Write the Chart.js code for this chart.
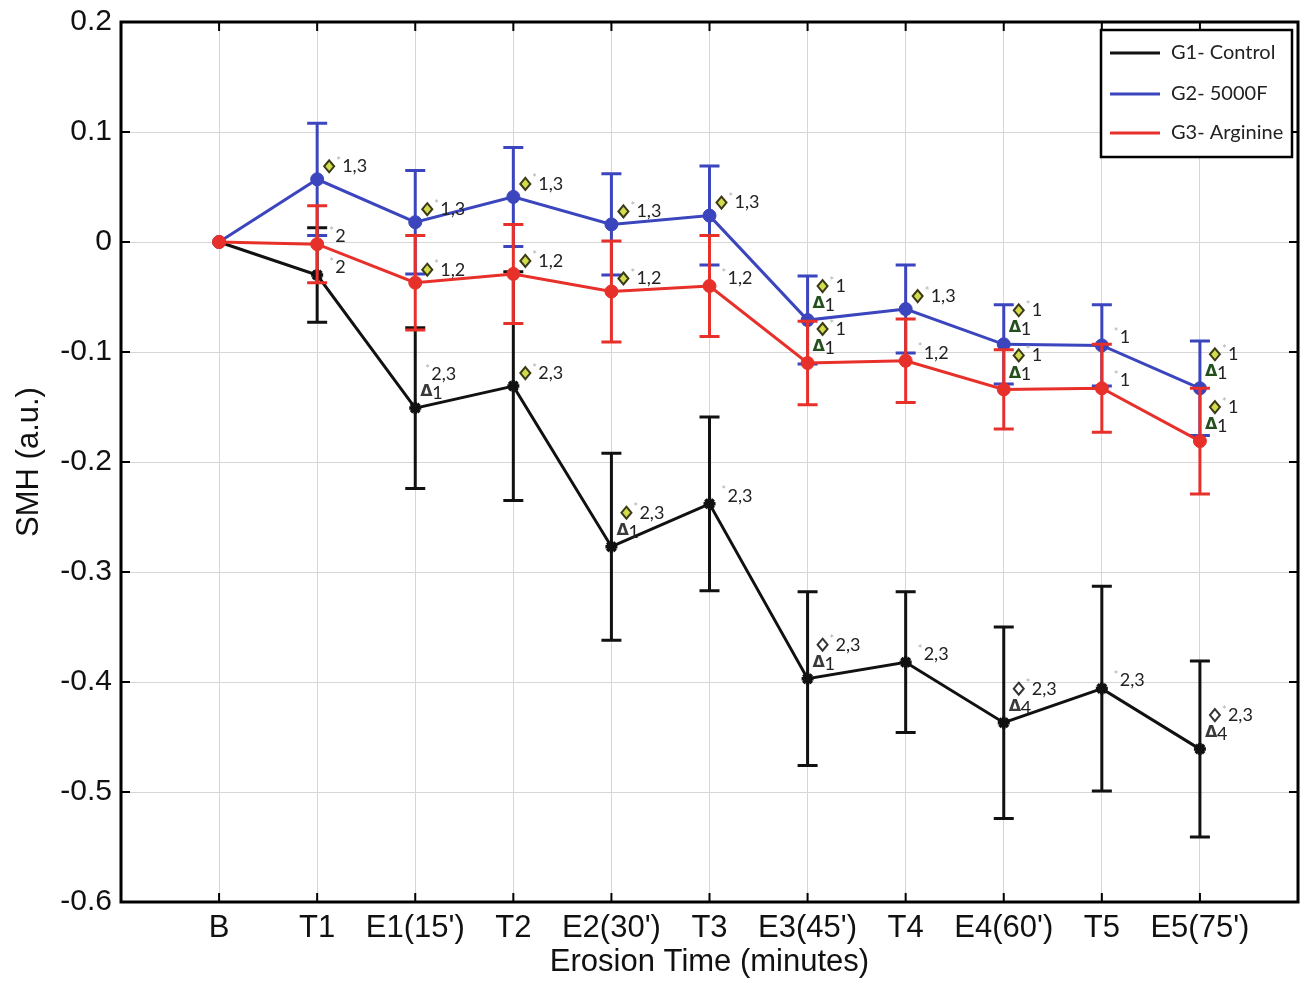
<!DOCTYPE html>
<html><head><meta charset="utf-8">
<script src="https://cdn.jsdelivr.net/npm/chart.js@4.4.1/dist/chart.umd.min.js"></script>
<style>html,body{margin:0;padding:0;background:#fff}#wrap{width:1309px;height:981px;position:relative}</style>
</head><body><div id="wrap"><canvas id="c"></canvas></div>
<script>
// ---- data ----
const categories = ["B","T1","E1(15')","T2","E2(30')","T3","E3(45')","T4","E4(60')","T5","E5(75')"];
const g1Values = [0,-0.030,-0.151,-0.131,-0.277,-0.238,-0.397,-0.382,-0.437,-0.406,-0.461];
const g1Errors = [0,0.043,0.073,0.104,0.085,0.079,0.079,0.064,0.087,0.093,0.080];
const g2Values = [0,0.057,0.018,0.041,0.016,0.024,-0.071,-0.061,-0.093,-0.094,-0.133];
const g2Errors = [0,0.051,0.047,0.045,0.046,0.045,0.040,0.040,0.036,0.037,0.043];
const g3Values = [0,-0.002,-0.037,-0.029,-0.045,-0.040,-0.110,-0.108,-0.134,-0.133,-0.181];
const g3Errors = [0,0.035,0.043,0.045,0.046,0.046,0.038,0.038,0.036,0.040,0.048];
const yTicks = [0.2,0.1,0,-0.1,-0.2,-0.3,-0.4,-0.5,-0.6];
const seriesNames = ["G1- Control","G2- 5000F","G3- Arginine"];
// significance marks: text after "*", diamond marker (f = filled, o = open), delta label
const g1Sig = ["","2","2,3","2,3","2,3","2,3","2,3","2,3","2,3","2,3","2,3"];
const g1Diamond = ["","","","f","f","","o","","o","","o"];
const g1Delta = ["","","1","","1","","1","","4","","4"];
const g2Sig = ["","1,3","1,3","1,3","1,3","1,3","1","1,3","1","1","1"];
const g2Diamond = ["","f","f","f","f","f","f","f","f","","f"];
const g2Delta = ["","","","","","","1","","1","","1"];
const g3Sig = ["","2","1,2","1,2","1,2","1,2","1","1,2","1","1","1"];
const g3Diamond = ["","","f","f","f","","f","","f","","f"];
const g3Delta = ["","","","","","","1","","1","","1"];

const BLACK = '#111111', BLUE = '#3b45bd', RED = '#e8302b';

function pts(vals){ return vals.map((v,i)=>({x:i,y:v})); }

const errorBars = {
  id:'errorBars',
  beforeDatasetDraw(chart, args){
    const ds = chart.data.datasets[args.index];
    const ys = chart.scales.y, ctx = chart.ctx;
    ctx.save();
    ctx.strokeStyle = ds.borderColor; ctx.lineWidth = 3;
    args.meta.data.forEach((p,i)=>{
      const e = ds.errors[i]; if(!e) return;
      const v = ds.data[i].y;
      const yt = ys.getPixelForValue(v+e), yb = ys.getPixelForValue(v-e);
      ctx.beginPath();
      ctx.moveTo(p.x,yt); ctx.lineTo(p.x,yb);
      ctx.moveTo(p.x-10,yt); ctx.lineTo(p.x+10,yt);
      ctx.moveTo(p.x-10,yb); ctx.lineTo(p.x+10,yb);
      ctx.stroke();
    });
    ctx.restore();
  }
};

function drawDiamond(ctx,cx,cy,type){
  ctx.save();
  ctx.beginPath();
  ctx.moveTo(cx,cy-6); ctx.lineTo(cx+5,cy); ctx.lineTo(cx,cy+6); ctx.lineTo(cx-5,cy); ctx.closePath();
  ctx.fillStyle = type==='f' ? '#d2dc4c' : '#ffffff';
  ctx.fill();
  ctx.lineWidth = 2; ctx.strokeStyle = type==='f' ? '#3a3a18' : '#333';
  ctx.stroke();
  ctx.restore();
}

const annotations = {
  id:'annotations',
  afterDatasetsDraw(chart){
    const ctx = chart.ctx;
    chart.data.datasets.forEach((ds,di)=>{
      const meta = chart.getDatasetMeta(di);
      meta.data.forEach((p,i)=>{
        const sig = ds.sig[i]; if(!sig) return;
        const hasDelta = ds.delta[i] !== '';
        let x, y;
        if (hasDelta){ x = p.x + 10; y = p.y - 34; }
        else if (ds.diamond[i]) { x = p.x + 7; y = p.y - 13; }
        else { x = p.x + 12; y = p.y - 8; }
        if (ds.diamond[i]) { drawDiamond(ctx, x+5, y, ds.diamond[i]); x += 12; }
        ctx.save();
        ctx.textBaseline = 'middle'; ctx.textAlign = 'left';
        ctx.font = '11px Lato'; ctx.fillStyle = '#b0b0b0';
        ctx.fillText('*', x, y-5); x += 6;
        ctx.font = '18px Lato'; ctx.fillStyle = '#222';
        ctx.fillText(sig, x, y);
        if (hasDelta){
          ctx.font = 'bold 16px "DejaVu Sans"';
          ctx.fillStyle = di===0 ? '#3a3a3a' : '#24501e';
          ctx.fillText('Δ', p.x+5, p.y-16);
          ctx.font = '18px Lato'; ctx.fillStyle = '#222';
          ctx.fillText(ds.delta[i], p.x+17, p.y-15);
        }
        ctx.restore();
      });
    });
  }
};

const frame = {
  id:'frame',
  afterDraw(chart){
    const ctx = chart.ctx, a = chart.chartArea;
    const xs = chart.scales.x, ys = chart.scales.y;
    ctx.save();
    ctx.strokeStyle = '#000'; ctx.lineWidth = 2;
    ctx.beginPath();
    categories.forEach((c,i)=>{
      const x = xs.getPixelForValue(i);
      ctx.moveTo(x,a.bottom); ctx.lineTo(x,a.bottom-9);
      ctx.moveTo(x,a.top); ctx.lineTo(x,a.top+9);
    });
    yTicks.forEach(v=>{
      const y = ys.getPixelForValue(v);
      ctx.moveTo(a.left,y); ctx.lineTo(a.left+9,y);
      ctx.moveTo(a.right,y); ctx.lineTo(a.right-9,y);
    });
    ctx.stroke();
    ctx.lineWidth = 3;
    ctx.strokeRect(a.left, a.top, a.right-a.left, a.bottom-a.top);
    // legend
    const lx = 1101, ly = 30, lw = 191, lh = 127;
    ctx.fillStyle = '#fff'; ctx.fillRect(lx,ly,lw,lh);
    ctx.lineWidth = 2.5; ctx.strokeStyle = '#000'; ctx.strokeRect(lx,ly,lw,lh);
    const rows = [53, 94, 133];
    chart.data.datasets.forEach((ds,i)=>{
      ctx.strokeStyle = ds.borderColor; ctx.lineWidth = 3;
      ctx.beginPath(); ctx.moveTo(1110, rows[i]); ctx.lineTo(1160, rows[i]); ctx.stroke();
      ctx.fillStyle = '#222'; ctx.font = '20px Lato'; ctx.textBaseline = 'middle'; ctx.textAlign = 'left';
      ctx.fillText(seriesNames[i], 1171, rows[i]);
    });
    ctx.restore();
  }
};

new Chart(document.getElementById('c'), {
  type:'line',
  data:{
    datasets:[
      {label:seriesNames[0], data:pts(g1Values), errors:g1Errors, sig:g1Sig, diamond:g1Diamond, delta:g1Delta,
       borderColor:BLACK, backgroundColor:BLACK, borderWidth:3, pointStyle:'star', pointRadius:6, pointBorderWidth:3.5, order:3},
      {label:seriesNames[1], data:pts(g2Values), errors:g2Errors, sig:g2Sig, diamond:g2Diamond, delta:g2Delta,
       borderColor:BLUE, backgroundColor:BLUE, borderWidth:3, pointStyle:'circle', pointRadius:6.5, pointBorderWidth:1, order:2},
      {label:seriesNames[2], data:pts(g3Values), errors:g3Errors, sig:g3Sig, diamond:g3Diamond, delta:g3Delta,
       borderColor:RED, backgroundColor:RED, borderWidth:3, pointStyle:'circle', pointRadius:6.5, pointBorderWidth:1, order:1}
    ]
  },
  options:{
    responsive:true, maintainAspectRatio:false, animation:false,
    layout:{padding:{top:22,right:11,left:0,bottom:0}},
    plugins:{legend:{display:false}, tooltip:{enabled:false}},
    elements:{line:{tension:0}},
    scales:{
      x:{type:'linear', min:-1, max:11,
        afterBuildTicks(s){ s.ticks = [-1,0,1,2,3,4,5,6,7,8,9,10,11].map(v=>({value:v})); },
        afterFit(s){ s.height = 79; s.paddingLeft = 0; s.paddingRight = 0; },
        ticks:{callback:(v)=>categories[v]||'', font:{family:'"Liberation Sans", Arial', size:31}, color:'#111', padding:8, maxRotation:0, autoSkip:false},
        grid:{color:'#d6d6d6', lineWidth:1, drawTicks:false},
        border:{display:false},
        title:{display:true, text:'Erosion Time (minutes)', font:{family:'"Liberation Sans", Arial', size:31}, color:'#111', padding:{top:0,bottom:0}}
      },
      y:{min:-0.6, max:0.2,
        afterBuildTicks(s){ s.ticks = yTicks.map(v=>({value:v})); },
        afterFit(s){ s.width = 121; s.paddingTop = 0; s.paddingBottom = 0; },
        ticks:{callback:(v)=>{const r=Math.round(v*10)/10; return r===0?'0':r.toFixed(1);}, font:{family:'"Liberation Sans", Arial', size:30}, color:'#111', padding:9},
        grid:{color:'#d6d6d6', lineWidth:1, drawTicks:false},
        border:{display:false},
        title:{display:true, text:'SMH (a.u.)', font:{family:'"Liberation Sans", Arial', size:31}, color:'#111', padding:{top:11,bottom:0}}
      }
    }
  },
  plugins:[errorBars, annotations, frame]
});
</script></body></html>
